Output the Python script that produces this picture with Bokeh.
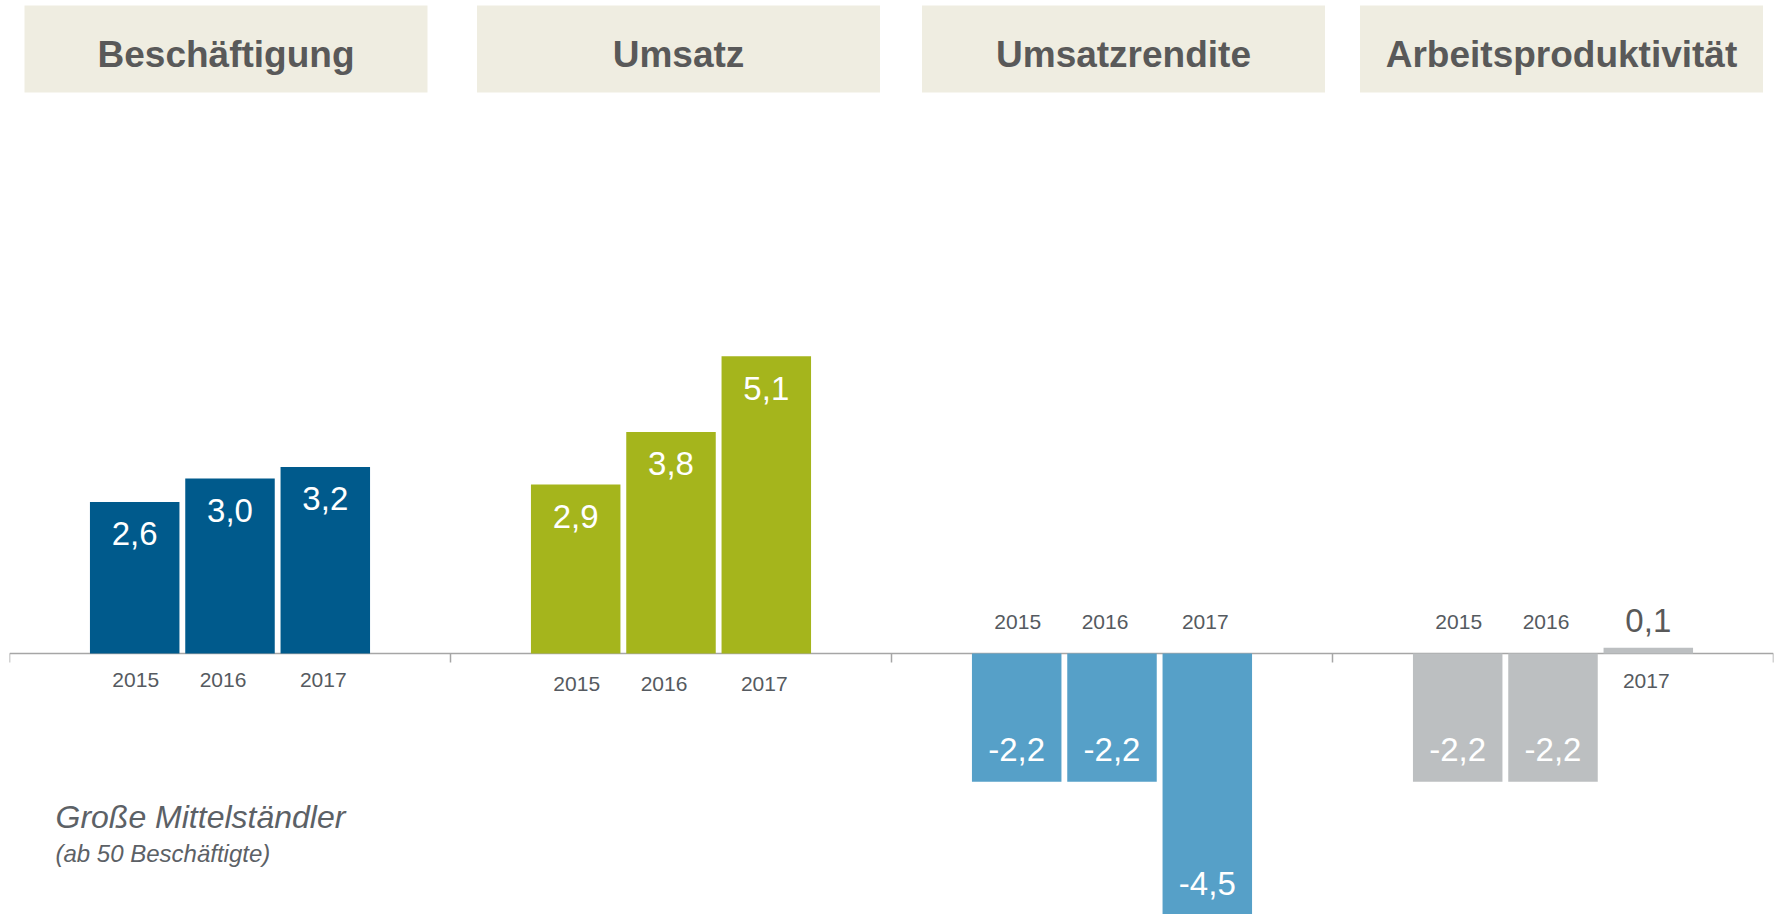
from bokeh.plotting import figure
from bokeh.models import Range1d
from bokeh.core.properties import value
from bokeh.embed import file_html
from bokeh.resources import INLINE

# ---------------- data ----------------
panels = ["Beschäftigung", "Umsatz", "Umsatzrendite", "Arbeitsproduktivität"]
years = ["2015", "2016", "2017"]
beschaeftigung = [2.6, 3.0, 3.2]
umsatz = [2.9, 3.8, 5.1]
umsatzrendite = [-2.2, -2.2, -4.5]
arbeitsproduktivitaet = [-2.2, -2.2, 0.1]
series = [beschaeftigung, umsatz, umsatzrendite, arbeitsproduktivitaet]
title_text = "Große Mittelständler"
subtitle_text = "(ab 50 Beschäftigte)"

# ---------------- style / layout ----------------
bar_colors = ["#005a8c", "#a5b51c", "#56a0c8", "#bcbfc1"]
header_bg = "#efede1"
dark_text = "#595959"
year_color = "#555a60"
axis_color = "#a6a6a6"
FONT = "Liberation Sans"

W, H = 1775, 914
PAGE_OFF = 0
FRAME_LEFT = 9          # page px
FRAME_RIGHT = 1773
PANEL_W = (FRAME_RIGHT - FRAME_LEFT) / 4.0
BASE_Y = 653.0          # page px of zero line
UNIT = 58.3             # px per unit value

def px2x(px):
    return (px - FRAME_LEFT) / PANEL_W

def px2y(py):
    return (BASE_Y - py) / UNIT

p = figure(width=W, height=H, output_backend="svg", toolbar_location=None,
           x_axis_location=None, y_axis_location=None,
           x_range=Range1d(0, 4), y_range=Range1d(px2y(PAGE_OFF + H), px2y(PAGE_OFF)),
           min_border_left=FRAME_LEFT, min_border_right=W - FRAME_RIGHT,
           min_border_top=0, min_border_bottom=0)
p.outline_line_color = None
p.grid.visible = False
p.background_fill_color = "white"
p.border_fill_color = "white"

# header boxes
header_left_px = [24, 476.5, 921.5, 1359.5]
header_w_px = 403
hl = [px2x(v) for v in header_left_px]
hr = [px2x(v + header_w_px) for v in header_left_px]
p.quad(left=hl, right=hr, top=px2y(5), bottom=px2y(92), fill_color=header_bg, line_color=None)
p.text(x=[(a + b) / 2 for a, b in zip(hl, hr)], y=px2y(53.5), text=panels,
       text_font=value(FONT), text_font_style="bold", text_font_size="37px",
       text_color=dark_text, text_align="center", text_baseline="alphabetic")

# zero line + ticks
p.segment(x0=0, y0=0, x1=4, y1=0, line_color=axis_color, line_width=1.5)
p.segment(x0=[0, 1, 2, 3, 4], y0=0, x1=[0, 1, 2, 3, 4], y1=-9 / UNIT,
          line_color=axis_color, line_width=1.5)

# bars
STEP = 95.3 / PANEL_W
BAR_W = 89.5 / PANEL_W
year_below_off = [26, 30, 27, 27]
year_above_off = -32
year_x_off = [1, -7, -2]

for i, vals in enumerate(series):
    xs = [i + 0.5 + (j - 1) * STEP for j in range(len(vals))]
    p.vbar(x=xs, top=vals, bottom=0, width=BAR_W, fill_color=bar_colors[i], line_color=None)
    for j, v in enumerate(vals):
        lbl = f"{v:.1f}".replace(".", ",")
        big = abs(v) >= 0.5
        if v >= 0:
            if big:
                p.text(x=[xs[j]], y=[v], text=[lbl], y_offset=32, text_color="white",
                       text_font=value(FONT), text_font_size="33px",
                       text_align="center", text_baseline="alphabetic")
            else:
                p.text(x=[xs[j]], y=[v], text=[lbl], y_offset=-27, text_color=dark_text,
                       text_font=value(FONT), text_font_size="33px",
                       text_align="center", text_baseline="alphabetic")
            p.text(x=[xs[j]], y=[0], text=[years[j]], y_offset=year_below_off[i],
                   x_offset=year_x_off[j], text_color=year_color,
                   text_font=value(FONT), text_font_size="21px",
                   text_align="center", text_baseline="alphabetic")
        else:
            p.text(x=[xs[j]], y=[v], text=[lbl], y_offset=-32, text_color="white",
                   text_font=value(FONT), text_font_size="33px",
                   text_align="center", text_baseline="alphabetic")
            p.text(x=[xs[j]], y=[0], text=[years[j]], y_offset=year_above_off,
                   x_offset=year_x_off[j], text_color=year_color,
                   text_font=value(FONT), text_font_size="21px",
                   text_align="center", text_baseline="alphabetic")

# caption
p.text(x=[px2x(55)], y=[px2y(816)], text=[title_text], text_font=value(FONT),
       text_font_style="italic", text_font_size="32px", text_color="#5c6166",
       text_align="left", text_baseline="alphabetic")
p.text(x=[px2x(55)], y=[px2y(853)], text=[subtitle_text], text_font=value(FONT),
       text_font_style="italic", text_font_size="24px", text_color="#5c6166",
       text_align="left", text_baseline="alphabetic")

open("out.html", "w").write(file_html(p, INLINE))
